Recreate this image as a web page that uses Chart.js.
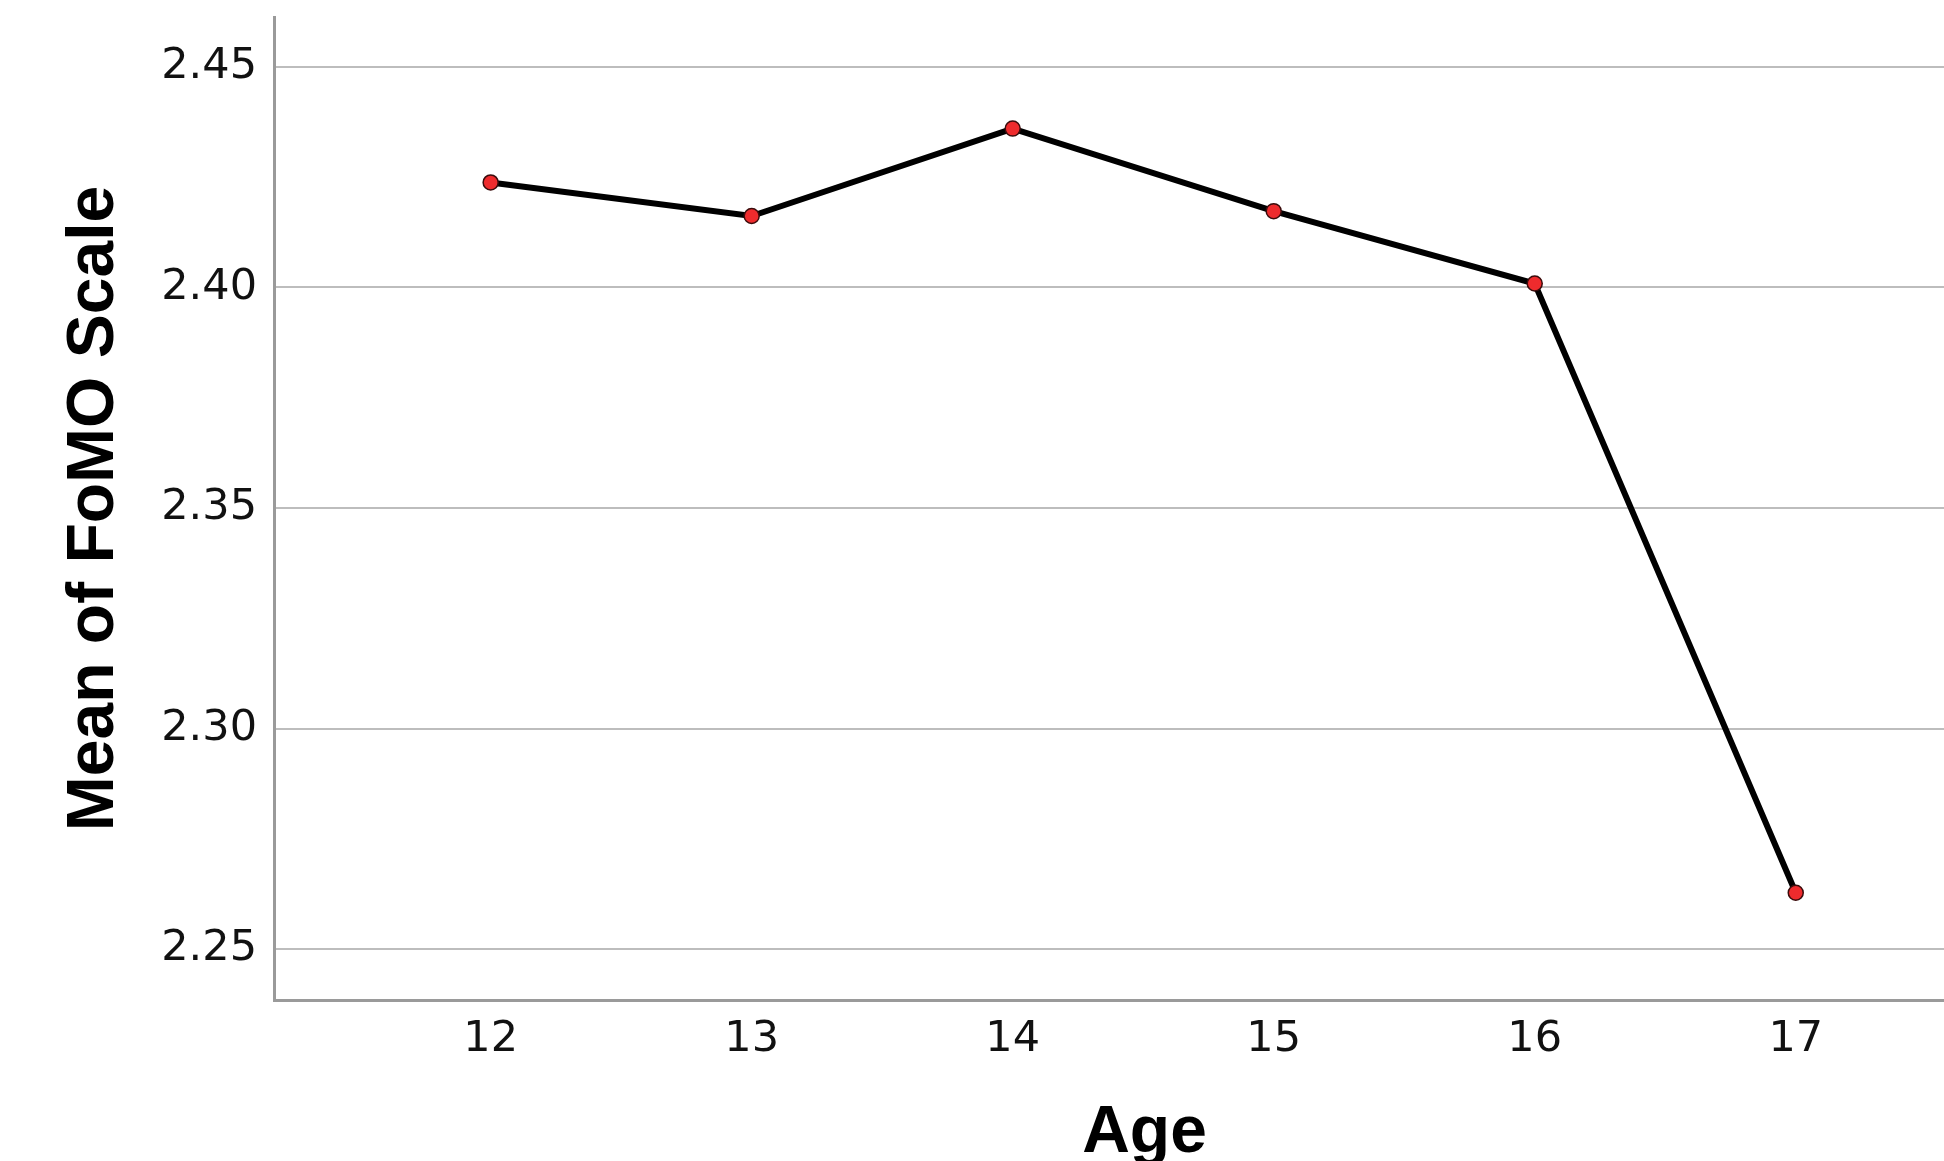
<!DOCTYPE html>
<html lang="en">
<head>
    <meta charset="UTF-8">
    <title>Mean of FoMO Scale by Age</title>
    <script src="https://cdn.jsdelivr.net/npm/chart.js"></script>
    <style>
        html, body { margin: 0; padding: 0; background: #fff; overflow: hidden; }
        #frame { width: 1944px; height: 1161px; overflow: hidden; position: relative; }
        #fomoChart { position: absolute; left: 0; top: 0; }
    </style>
</head>
<body>
    <div id="frame">
        <canvas id="fomoChart" width="2024" height="1200"></canvas>
    </div>

    <script>
        // data
        var ages = [12, 13, 14, 15, 16, 17];
        var fomoMeans = [2.4238, 2.4162, 2.4360, 2.4173, 2.4009, 2.2628];
        var yTickValues = [2.25, 2.30, 2.35, 2.40, 2.45];
        var xTickValues = [12, 13, 14, 15, 16, 17];

        var tickFont = { family: 'DejaVu Sans', size: 43 };
        var titleFont = { family: 'Liberation Sans', size: 66, weight: 'bold', lineHeight: 1.2 };

        var ctx = document.getElementById('fomoChart').getContext('2d');
        var fomoChart = new Chart(ctx, {
            type: 'line',
            data: {
                datasets: [{
                    label: 'Mean of FoMO Scale',
                    data: ages.map(function(a, i) { return { x: a, y: fomoMeans[i] }; }),
                    borderColor: '#000',
                    borderWidth: 6,
                    tension: 0,
                    fill: false,
                    pointRadius: 7.5,
                    pointBackgroundColor: '#ee2b2d',
                    pointBorderColor: '#3a0c0c',
                    pointBorderWidth: 1.5
                }]
            },
            options: {
                responsive: false,
                devicePixelRatio: 1,
                animation: false,
                layout: { padding: { top: 17, left: 0, right: 1, bottom: 0 } },
                plugins: {
                    legend: { display: false },
                    tooltip: { enabled: false }
                },
                scales: {
                    x: {
                        type: 'linear',
                        min: 11.17,
                        max: 17.84,
                        grid: { display: false, drawTicks: false },
                        border: { display: true, color: '#9a9a9a', width: 3 },
                        ticks: {
                            font: tickFont,
                            color: '#111',
                            padding: 14,
                            callback: function(v) { return String(v); }
                        },
                        afterBuildTicks: function(scale) {
                            scale.ticks = xTickValues.map(function(v) { return { value: v }; });
                        },
                        afterFit: function(scale) {
                            scale.height = 200;
                            scale.paddingLeft = 0;
                            scale.paddingRight = 0;
                        },
                        title: {
                            display: true,
                            text: 'Age',
                            font: titleFont,
                            color: '#000',
                            padding: { top: 0, bottom: 27 }
                        }
                    },
                    y: {
                        min: 2.2385,
                        max: 2.4613,
                        grid: { color: '#bdbdbd', lineWidth: 2, drawTicks: false },
                        border: { display: true, color: '#9a9a9a', width: 3 },
                        ticks: {
                            font: tickFont,
                            color: '#111',
                            padding: 17,
                            callback: function(v) { return v.toFixed(2); }
                        },
                        afterBuildTicks: function(scale) {
                            scale.ticks = yTickValues.map(function(v) { return { value: v }; });
                        },
                        afterFit: function(scale) {
                            scale.width = 274;
                            scale.paddingTop = 0;
                            scale.paddingBottom = 0;
                        },
                        title: {
                            display: true,
                            text: 'Mean of FoMO Scale',
                            font: titleFont,
                            color: '#000',
                            padding: { top: 55, bottom: 0 }
                        }
                    }
                }
            }
        });
    </script>
</body>
</html>
